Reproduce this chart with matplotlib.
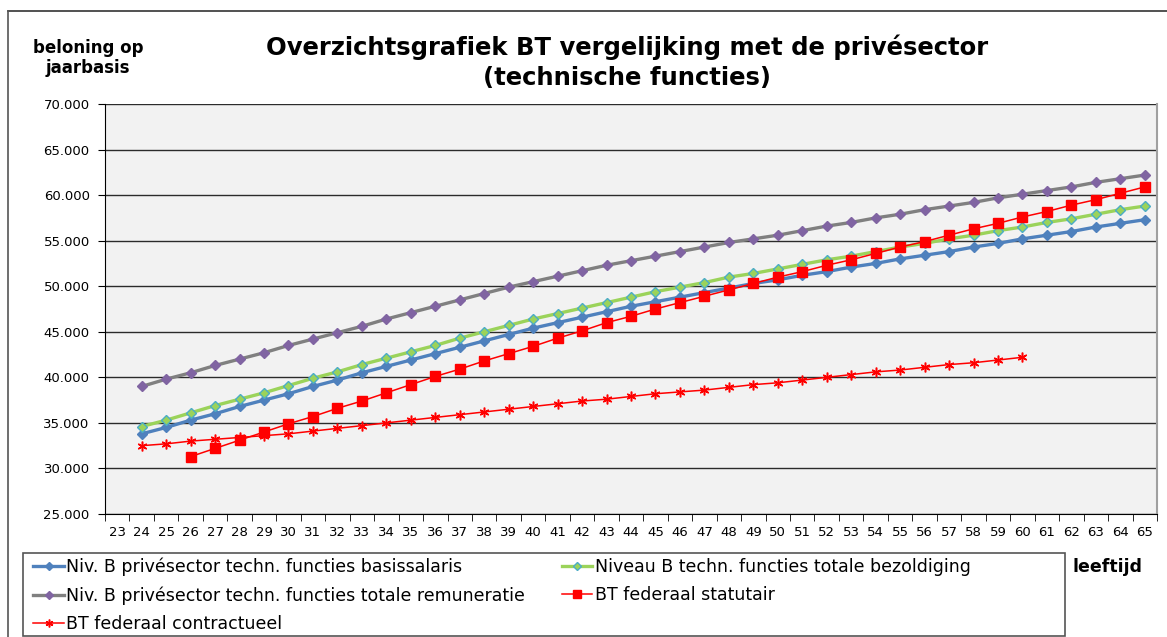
import matplotlib.pyplot as plt
import matplotlib.patches as patches
from matplotlib.lines import Line2D
from matplotlib.ticker import FuncFormatter, FixedLocator

ages = list(range(24, 66))
basissalaris = [33800, 34500, 35300, 36000, 36800, 37500, 38200, 39000, 39700, 40500,
                41200, 41900, 42600, 43300, 44000, 44700, 45400, 46000, 46600, 47200,
                47800, 48300, 48800, 49300, 49800, 50300, 50700, 51200, 51600, 52100,
                52500, 53000, 53400, 53800, 54300, 54700, 55200, 55600, 56000, 56500,
                56900, 57300]
bezoldiging = [34600, 35300, 36100, 36900, 37600, 38300, 39100, 39900, 40600, 41400,
               42100, 42800, 43500, 44300, 45000, 45700, 46400, 47000, 47600, 48200,
               48800, 49400, 49900, 50400, 51000, 51400, 51900, 52400, 52900, 53300,
               53800, 54300, 54700, 55200, 55600, 56100, 56500, 57000, 57400, 57900,
               58400, 58800]
remuneratie = [39000, 39800, 40500, 41300, 42000, 42700, 43500, 44200, 44900, 45600,
               46400, 47100, 47800, 48500, 49200, 49900, 50500, 51100, 51700, 52300,
               52800, 53300, 53800, 54300, 54800, 55200, 55600, 56100, 56600, 57000,
               57500, 57900, 58400, 58800, 59200, 59700, 60100, 60500, 60900, 61400,
               61800, 62200]
ages_statutair = list(range(26, 66))
statutair = [31300, 32200, 33100, 34000, 34900, 35700, 36600, 37400, 38300, 39200,
             40100, 40900, 41800, 42600, 43400, 44300, 45100, 46000, 46700, 47500,
             48200, 48900, 49600, 50300, 51000, 51600, 52300, 52900, 53600, 54300,
             54900, 55600, 56300, 56900, 57600, 58200, 58900, 59500, 60200, 60900]
ages_contract = list(range(24, 61))
contractueel = [32500, 32700, 33000, 33200, 33400, 33600, 33800, 34100, 34400, 34700,
                35000, 35300, 35600, 35900, 36200, 36500, 36800, 37100, 37400, 37600,
                37900, 38200, 38400, 38600, 38900, 39200, 39400, 39700, 40000, 40300,
                40600, 40800, 41100, 41400, 41600, 41900, 42200]

W, H = 1167, 637
fig = plt.figure(figsize=(W / 100, H / 100), dpi=100)
ax = fig.add_axes([105/W, 1 - 514/H, (1157-105)/W, (514-104)/H])
ax.set_facecolor('#F2F2F2')

l1, = ax.plot(ages, basissalaris, color='#4F81BD', lw=2.4, marker='D', ms=5,
              mfc='#4F81BD', mec='#4F81BD', label='Niv. B privésector techn. functies basissalaris', zorder=3)
l2, = ax.plot(ages, bezoldiging, color='#9BD35A', lw=2.4, marker='D', ms=5,
              mfc='#9BD35A', mec='#4BACC6', mew=1, label='Niveau B techn. functies totale bezoldiging', zorder=3)
l3, = ax.plot(ages, remuneratie, color='#808080', lw=2.4, marker='D', ms=5,
              mfc='#8064A2', mec='#8064A2', label='Niv. B privésector techn. functies totale remuneratie', zorder=3)
l4, = ax.plot(ages_statutair, statutair, color='#FF0000', lw=1.1, marker='s', ms=6.5,
              mfc='#FF0000', mec='#FF0000', label='BT federaal statutair', zorder=4)
l5, = ax.plot(ages_contract, contractueel, color='#FF0000', lw=1.1, marker=(6, 2, 0), ms=7,
              mec='#FF0000', mew=1.1, label='BT federaal contractueel', zorder=4)

ax.set_ylim(25000, 70000)
ax.set_xlim(22.5, 65.5)
ax.set_yticks(range(25000, 70001, 5000))
ax.yaxis.set_major_formatter(FuncFormatter(lambda v, p: f'{int(v):,}'.replace(',', '.')))
ax.set_xticks(range(23, 66))
ax.xaxis.set_minor_locator(FixedLocator([x + 0.5 for x in range(22, 66)]))
ax.tick_params(axis='x', which='major', length=0, labelsize=9.5, pad=9)
ax.tick_params(axis='x', which='minor', length=5, direction='out')
ax.tick_params(axis='y', length=5, labelsize=9.5, pad=6)
ax.grid(axis='y', color='#2b2b2b', lw=1)
ax.set_axisbelow(True)
ax.spines['top'].set_visible(False)
ax.spines['right'].set_color('#A0A0A0')
ax.spines['right'].set_linewidth(1.5)
ax.spines['left'].set_color('black')
ax.spines['bottom'].set_color('black')

fig.text(627/W, 1 - 62/H, 'Overzichtsgrafiek BT vergelijking met de privésector\n(technische functies)',
         ha='center', va='center', fontsize=17.5, fontweight='bold', linespacing=1.3)
fig.text(88/W, 1 - 58/H, 'beloning op\njaarbasis', ha='center', va='center',
         fontsize=12, fontweight='bold', linespacing=1.1)
fig.text(1107/W, 1 - 567/H, 'leeftijd', ha='center', va='center', fontsize=12.5, fontweight='bold')

leg = fig.legend(handles=[l1, l3, l5, l2, l4], loc='upper left', ncol=2,
                 bbox_to_anchor=(30/W, 1 - 554/H), fontsize=12.5, frameon=False,
                 handlelength=1.75, handletextpad=0.15, columnspacing=2.1,
                 borderaxespad=0, labelspacing=0.6, borderpad=0.2, markerscale=0.8)

# legend frame, wider than its content as in the reference
fig.patches.append(patches.Rectangle((23/W, 1 - 636/H), (1065-23)/W, (636-553)/H,
                                     transform=fig.transFigure, fill=False,
                                     edgecolor='#555555', lw=1.2))
# outer chart border (top and left visible)
fig.add_artist(Line2D([8/W, 1], [1 - 11/H, 1 - 11/H], color='#333333', lw=1.2))
fig.add_artist(Line2D([8/W, 8/W], [0, 1 - 11/H], color='#555555', lw=1.2))

fig.savefig('out.png', dpi=100)
